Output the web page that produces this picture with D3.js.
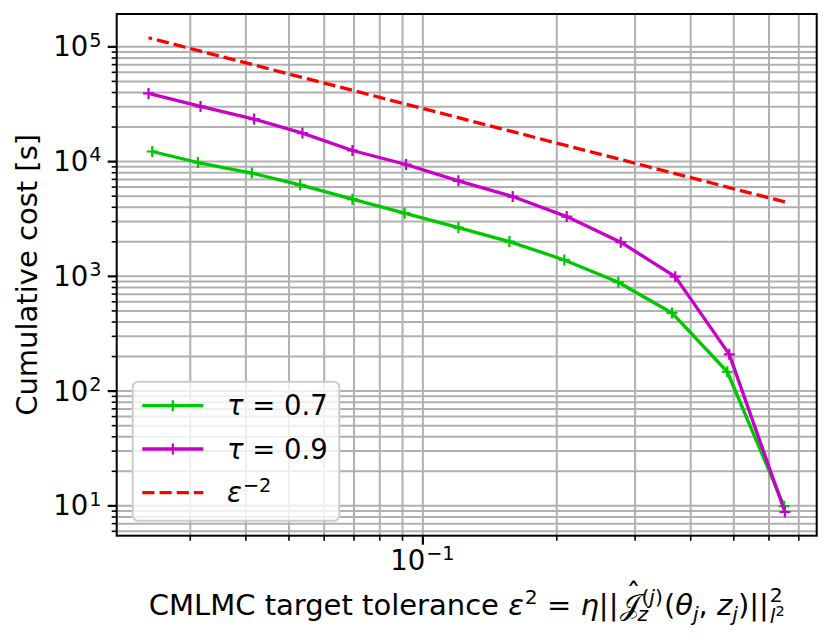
<!DOCTYPE html>
<html>
<head>
<meta charset="utf-8">
<script src="https://cdn.jsdelivr.net/npm/d3@7"></script>
<style>
  body { margin: 0; background: #fff; }
  text { font-family: "DejaVu Sans", sans-serif; fill: #000; }
</style>
</head>
<body>
<svg id="chart" width="831" height="642"></svg>
<script>
// CMLMC iterations, tolerance shrinks at each step
const tolTau07 = [0.6499, 0.4847, 0.3640, 0.2757, 0.2085, 0.1569, 0.1205, 0.0912, 0.06963, 0.05312, 0.04136, 0.03129, 0.02470];
const costTau07 = [9.84, 146, 475, 880, 1376, 1988, 2634, 3518, 4661, 6213, 7860, 9720, 12130];

const tolTau09 = [0.6533, 0.4897, 0.3702, 0.2792, 0.2111, 0.1596, 0.1205, 0.0919, 0.06963, 0.05375, 0.04185, 0.03171, 0.02423];
const costTau09 = [8.75, 207, 984, 1965, 3285, 4910, 6730, 9340, 12375, 17550, 23260, 29950, 38900];

// eps^-2 reference, read at the tau=0.9 tolerances
const refCost = [4408, 5881, 7780, 10315, 13640, 18045, 23900, 31340, 41360, 53580, 68820, 90820, 118860];

const yTickExps = [1, 2, 3, 4, 5];
const xTickExps = [-1];

const width = 831, height = 642;
const margin = {left: 116.7, top: 14, right: 14.3, bottom: 106.3};
const fs = 27.5;      // tick labels, legend
const labelFs = 29;   // axis labels
const supUp = 9.8, subDown = 6;
const NB = "\u00a0";

const svg = d3.select("#chart");

const x = d3.scaleLog().domain([0.02055, 0.770]).range([margin.left, width - margin.right]);
const y = d3.scaleLog().domain([5.44, 1.914e5]).range([height - margin.bottom, margin.top]);

const innerW = width - margin.left - margin.right;
const innerH = height - margin.top - margin.bottom;

// all 1..9 x 10^k values inside a domain
function logTicks(scale) {
    const [a, b] = scale.domain();
    const out = [];
    for (let e = Math.floor(Math.log10(a)); e <= Math.ceil(Math.log10(b)); e++) {
        for (let k = 1; k < 10; k++) {
            const v = k * Math.pow(10, e);
            if (v >= a && v <= b) out.push(v);
        }
    }
    return out;
}
const xAll = logTicks(x), yAll = logTicks(y);
const xMajor = xTickExps.map(e => Math.pow(10, e));
const yMajor = yTickExps.map(e => Math.pow(10, e));
const xMinor = xAll.filter(v => !xMajor.some(m => Math.abs(m / v - 1) < 1e-9));
const yMinor = yAll.filter(v => !yMajor.some(m => Math.abs(m / v - 1) < 1e-9));

// grid (major + minor)
const gridX = svg.append("g")
    .attr("transform", `translate(0,${margin.top})`)
    .call(d3.axisTop(x).tickValues(xAll).tickSize(-innerH).tickFormat(""));
const gridY = svg.append("g")
    .attr("transform", `translate(${margin.left},0)`)
    .call(d3.axisLeft(y).tickValues(yAll).tickSize(-innerW).tickFormat(""));
[gridX, gridY].forEach(g => {
    g.select(".domain").remove();
    g.selectAll("line").attr("stroke", "#b0b0b0").attr("stroke-width", 2);
});

// data
const line = d3.line().x(d => x(d[0])).y(d => y(d[1]));

function series(tol, cost, color) {
    const pts = tol.map((t, i) => [t, cost[i]]);
    svg.append("path")
        .datum(pts)
        .attr("d", line)
        .attr("fill", "none")
        .attr("stroke", color)
        .attr("stroke-width", 3.3)
        .attr("stroke-linejoin", "round");
    svg.append("g").selectAll("path")
        .data(pts)
        .join("path")
        .attr("d", "M-5.5,0H5.5M0,-5.5V5.5")
        .attr("transform", d => `translate(${x(d[0])},${y(d[1])})`)
        .attr("stroke", color)
        .attr("stroke-width", 2.2);
}

svg.append("path")
    .datum(tolTau09.map((t, i) => [t, refCost[i]]))
    .attr("d", line)
    .attr("fill", "none")
    .attr("stroke", "#ff0000")
    .attr("stroke-width", 3.3)
    .attr("stroke-dasharray", "12.2,5");

series(tolTau07, costTau07, "#00c800");
series(tolTau09, costTau09, "#c800c8");

// frame
svg.append("rect")
    .attr("x", margin.left).attr("y", margin.top)
    .attr("width", innerW).attr("height", innerH)
    .attr("fill", "none").attr("stroke", "#000").attr("stroke-width", 2);

// ticks
function ticks(axis, scale, vals, size, sw, tr) {
    const g = svg.append("g").attr("transform", tr)
        .call(axis(scale).tickValues(vals).tickSize(size).tickFormat(""));
    g.select(".domain").remove();
    g.selectAll("line").attr("stroke", "#000").attr("stroke-width", sw);
}
const bottomY = height - margin.bottom;
ticks(d3.axisBottom, x, xMajor, 9, 2.2, `translate(0,${bottomY})`);
ticks(d3.axisBottom, x, xMinor, 5, 1.6, `translate(0,${bottomY})`);
ticks(d3.axisLeft, y, yMajor, 9, 2.2, `translate(${margin.left},0)`);
ticks(d3.axisLeft, y, yMinor, 5, 1.6, `translate(${margin.left},0)`);

// small math-text layout: pieces placed one after another
function mathText(parent, pieces, x0, y0, anchor, size) {
    const g = parent.append("g");
    let pen = 0, maxX = 0, mark = 0, lastStart = 0, lastW = 0;
    pieces.forEach(p => {
        if (p.mark) { mark = pen; return; }
        const s = (p.s || 1) * size;
        const t = g.append("text")
            .text(p.t)
            .attr("font-size", s)
            .attr("y", p.dy || 0);
        if (p.it) t.attr("font-style", "italic");
        if (p.over) {
            t.attr("x", lastStart + lastW / 2 + (p.dx || 0)).attr("text-anchor", "middle");
            return;
        }
        const w = t.node().getComputedTextLength();
        let start = pen;
        if (p.at === "mark") start = mark;
        if (p.at === "max") start = maxX;
        start += (p.dx || 0);
        t.attr("x", start);
        lastStart = start; lastW = w;
        pen = start + w;
        maxX = Math.max(maxX, pen);
    });
    let sx = x0;
    if (anchor === "middle") sx = x0 - maxX / 2;
    if (anchor === "end") sx = x0 - maxX;
    g.attr("transform", `translate(${sx},${y0})`);
    return g;
}

// tick labels
yTickExps.forEach(e => {
    mathText(svg, [{t: "10"}, {t: String(e), s: 0.7, dy: -supUp, dx: 1}],
        101.5, y(Math.pow(10, e)) + 10, "end", fs);
});
xTickExps.forEach(e => {
    mathText(svg, [{t: "10"}, {t: "\u2212" + Math.abs(e), s: 0.7, dy: -supUp, dx: 1}],
        x(Math.pow(10, e)), 570, "middle", fs);
});

// axis labels
svg.append("text")
    .attr("transform", `translate(37,${margin.top + innerH / 2}) rotate(-90)`)
    .attr("text-anchor", "middle")
    .attr("font-size", labelFs)
    .text("Cumulative cost [s]");

mathText(svg, [
    {t: "CMLMC target tolerance" + NB},
    {t: "\u03b5", it: true},
    {t: "2", s: 0.7, dy: -supUp - 1, dx: 1},
    {t: NB + "=" + NB},
    {t: "\u03b7", it: true},
    {t: "||"},
    {t: "\ud835\udca5", dx: 2},
    {t: "\u02c6", over: true, dy: -11, dx: 3},
    {mark: true},
    {t: "(", s: 0.7, dy: -supUp - 1, dx: 1},
    {t: "j", s: 0.7, it: true, dy: -supUp - 1},
    {t: ")", s: 0.7, dy: -supUp - 1},
    {t: "z", s: 0.7, it: true, dy: subDown, at: "mark", dx: -3},
    {t: "(", at: "max", dx: 1},
    {t: "\u03b8", it: true},
    {t: "j", s: 0.7, it: true, dy: subDown},
    {t: "," + NB},
    {t: "z", it: true},
    {t: "j", s: 0.7, it: true, dy: subDown},
    {t: ")||"},
    {mark: true},
    {t: "2", s: 0.7, dy: -supUp - 3, dx: 1},
    {t: "l", s: 0.7, it: true, dy: subDown + 2, at: "mark", dx: 1},
    {t: "2", s: 0.5, dy: subDown - 5}
], margin.left + innerW / 2, 615, "middle", labelFs);

// legend
const legend = svg.append("g");
legend.append("rect")
    .attr("x", 132.7).attr("y", 381.7)
    .attr("width", 206.6).attr("height", 139)
    .attr("rx", 5.5)
    .attr("fill", "#fff").attr("fill-opacity", 0.8)
    .attr("stroke", "#cccccc").attr("stroke-width", 2);

const legendItems = [
    {color: "#00c800", dash: null, marker: true, label: [{t: "\u03c4", it: true}, {t: NB + "=" + NB + "0.7"}]},
    {color: "#c800c8", dash: null, marker: true, label: [{t: "\u03c4", it: true}, {t: NB + "=" + NB + "0.9"}]},
    {color: "#ff0000", dash: "12.2,5", marker: false, label: [{t: "\u03b5", it: true}, {t: "\u22122", s: 0.7, dy: -supUp, dx: 1}]}
];
const rowY = [405.7, 449, 492.7];
legendItems.forEach((it, i) => {
    const cy = rowY[i];
    legend.append("line")
        .attr("x1", 142.3).attr("x2", 203.3)
        .attr("y1", cy).attr("y2", cy)
        .attr("stroke", it.color).attr("stroke-width", 3.3)
        .attr("stroke-dasharray", it.dash);
    if (it.marker) {
        legend.append("path")
            .attr("d", "M-5.5,0H5.5M0,-5.5V5.5")
            .attr("transform", `translate(172.8,${cy})`)
            .attr("stroke", it.color).attr("stroke-width", 2.2);
    }
    mathText(legend, it.label, 227, cy + 9.5, "start", fs);
});
</script>
</body>
</html>
